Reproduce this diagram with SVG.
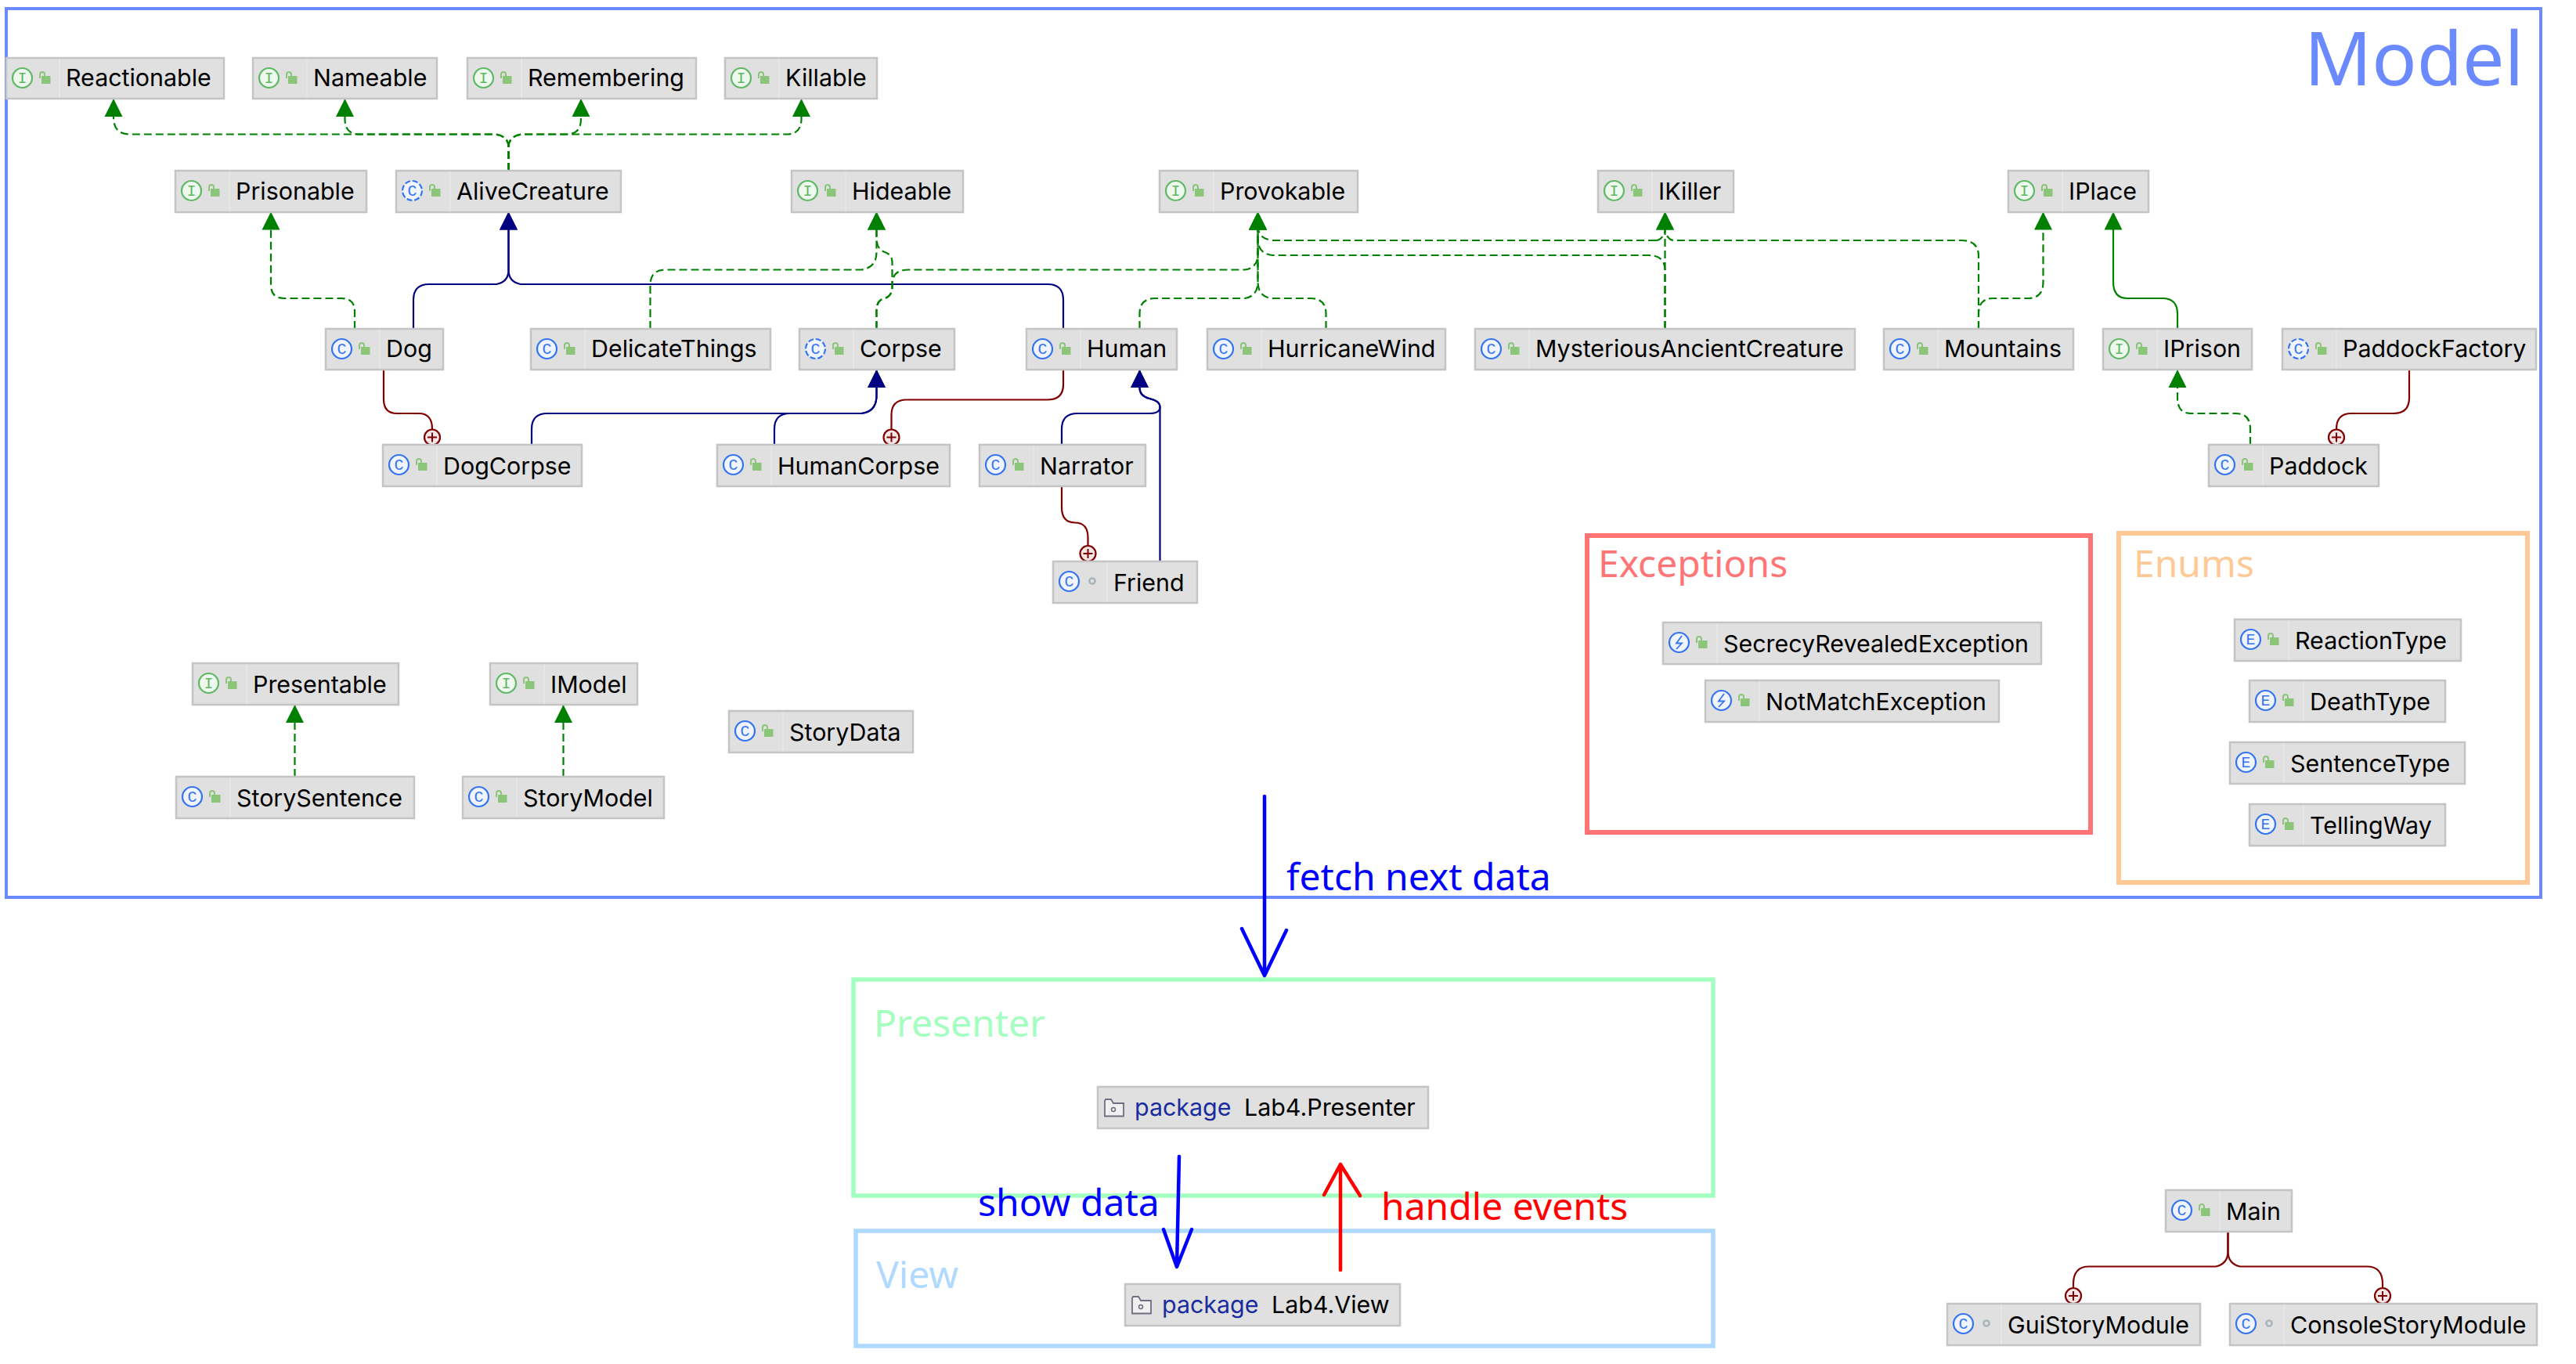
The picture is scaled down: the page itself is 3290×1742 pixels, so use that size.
<svg xmlns="http://www.w3.org/2000/svg" width="3290" height="1742" viewBox="0 0 3290 1742">
<style>
.bg{fill:#fff}
.node rect.b{fill:#e0e0e0;stroke:#c4c4c4;stroke-width:2.5}
.node line.d{stroke:#e9e9e9;stroke-width:1.5}
.node text.t{font-family:"Inter","Noto Sans",sans-serif;font-size:30.4px;fill:#000}
.node text.k{font-family:"Inter","Noto Sans",sans-serif;font-size:30.4px;fill:#1a2d9e}
.ci{font-family:"Liberation Mono","DejaVu Sans Mono",monospace;font-size:20px;text-anchor:middle}
.frame{fill:none}
.cap{font-family:"Noto Sans","Open Sans",sans-serif}
.impl{fill:none;stroke:#008000;stroke-width:2.2;stroke-dasharray:10 5}
.ext{fill:none;stroke:#000080;stroke-width:2.2}
.gext{fill:none;stroke:#008000;stroke-width:2.2}
.nest{fill:none;stroke:#800000;stroke-width:2.2}
.hand{fill:none;stroke-width:4.5;stroke-linecap:round;stroke-linejoin:round}
</style>
<defs>
<marker id="ag" viewBox="0 -12 23 24" refX="23" refY="0" markerWidth="23" markerHeight="24" markerUnits="userSpaceOnUse" orient="auto"><path d="M0-11.500L23 0L0 11.500Z" fill="#008000"/></marker>
<marker id="an" viewBox="0 -12 23 24" refX="23" refY="0" markerWidth="23" markerHeight="24" markerUnits="userSpaceOnUse" orient="auto"><path d="M0-11.500L23 0L0 11.500Z" fill="#000080"/></marker>
<g id="lock"><rect x="45" y="23" width="11.500" height="10" fill="#8bc57a"/><path d="M43 26V21A3 3 0 0 1 49 21V23" fill="none" stroke="#8bc57a" stroke-width="2"/></g>
<g id="ring"><circle cx="50" cy="25" r="3.600" fill="none" stroke="#a9b4bb" stroke-width="2.500"/></g>
<g id="ic-i"><circle cx="20.500" cy="25.500" r="12.500" fill="#eff8ee" stroke="#5fb865" stroke-width="2.200"/><text class="ci" x="20.500" y="32" fill="#5fb865">I</text><use href="#lock"/></g>
<g id="ic-c"><circle cx="20.500" cy="25.500" r="12.500" fill="#eff4ff" stroke="#3574f0" stroke-width="2.200"/><text class="ci" x="20.500" y="32" fill="#3574f0">C</text></g>
<g id="ic-a"><circle cx="20.500" cy="25.500" r="12.500" fill="#eff4ff" stroke="#3574f0" stroke-width="2.200" stroke-dasharray="7 2.800"/><text class="ci" x="20.500" y="32" fill="#3574f0">C</text><use href="#lock"/></g>
<g id="ic-e"><circle cx="20.500" cy="25.500" r="12.500" fill="#eff4ff" stroke="#3574f0" stroke-width="2.200"/><text class="ci" x="20.500" y="32" fill="#3574f0">E</text><use href="#lock"/></g>
<g id="ic-x"><circle cx="20.500" cy="25.500" r="12.500" fill="#eff4ff" stroke="#3574f0" stroke-width="2.200"/><path d="M24 17L17 26.500H24L17 34" fill="none" stroke="#3574f0" stroke-width="1.800"/><use href="#lock"/></g>
<g id="ic-p"><path d="M9 18V37.500H33V21H20L17 16H10Z" fill="#f0f0f0" stroke="#6e6e80" stroke-width="1.800"/><circle cx="20" cy="29" r="2.500" fill="none" stroke="#6e6e80" stroke-width="1.500"/></g>
<g id="plus"><circle r="10" fill="#f4e6e6" stroke="#800000" stroke-width="2.200"/><path d="M-6 0H6M0-6V6" stroke="#800000" stroke-width="2"/></g>
</defs>
<rect class="bg" width="3290" height="1742"/>

<g id="containers">
<g id="model"><rect class="frame" x="8" y="11" width="3237" height="1135" stroke-width="4" stroke="#6b8aff"/><text class="cap" x="2943" y="109" font-size="95" fill="#6b8aff">Model</text></g>
<g id="exceptions"><rect class="frame" x="2027" y="684" width="643" height="379" stroke-width="6" stroke="#ff7575"/><text class="cap" x="2041" y="737" font-size="48" fill="#ff7575">Exceptions</text></g>
<g id="enums"><rect class="frame" x="2706" y="681" width="522" height="446" stroke-width="6" stroke="#ffc996"/><text class="cap" x="2725" y="737" font-size="48" fill="#ffc996">Enums</text></g>
<g id="presenter"><rect class="frame" x="1090" y="1251" width="1098" height="276" stroke-width="5.500" stroke="#a3ffc0"/><text class="cap" x="1116" y="1324" font-size="48" fill="#a3ffc0">Presenter</text></g>
<g id="view"><rect class="frame" x="1093" y="1572" width="1095" height="147" stroke-width="5.500" stroke="#b0d9ff"/><text class="cap" x="1119" y="1645" font-size="48" fill="#b0d9ff">View</text></g>
</g>

<g id="connectors">
<path class="impl" marker-end="url(#ag)" d="M649.500 218V187Q649 174 633 171.500H165Q145 171 145 150V126"/>
<path class="impl" marker-end="url(#ag)" d="M649.500 218V187Q649 174 633 171.500H458Q440.500 171 440.500 152V126"/>
<path class="impl" marker-end="url(#ag)" d="M649.500 218V187Q650 174 666 171.500H724Q742 171 742 152V126"/>
<path class="impl" marker-end="url(#ag)" d="M649.500 218V187Q650 174 666 171.500H1005Q1023.500 171 1023.500 152V126"/>
<path class="impl" marker-end="url(#ag)" d="M453 420V398Q453 381 436 381H363Q346 381 346 364V270.500"/>
<path class="ext" marker-end="url(#an)" d="M528 420V383Q528 363 548 363H634Q649.500 360 649.500 345V270.500"/>
<path class="ext" marker-end="url(#an)" d="M1358 420V383Q1358 363 1338 363H665Q649.500 360 649.500 345V270.500"/>
<path class="nest" d="M490 472V510Q490 528 507 528H535Q552 528 552 548"/>
<path class="impl" marker-end="url(#ag)" d="M830.500 420V364Q830.500 344.500 850 344.500H1100Q1119.500 342 1119.500 322V270.500"/>
<path class="impl" marker-end="url(#ag)" d="M1119.500 420V397Q1119.500 383 1130 381Q1139.500 378 1139.500 366V335Q1139.500 325 1130 322Q1119.500 318 1119.500 305V270.500"/>
<path class="impl" marker-end="url(#ag)" d="M1119.500 420V397Q1119.500 383 1130 381Q1139.500 378 1139.500 366V362Q1140 344.500 1160 344.500H1590Q1606.500 342 1606.500 325V270.500"/>
<path class="impl" marker-end="url(#ag)" d="M1455.500 420V401Q1455.500 381 1475 381H1590Q1606.500 378 1606.500 360V270.500"/>
<path class="impl" marker-end="url(#ag)" d="M1693.500 420V401Q1693.500 381 1674 381H1623Q1606.500 378 1606.500 360V270.500"/>
<path class="impl" marker-end="url(#ag)" d="M2126.500 420V345Q2126.500 326 2105 326H1625Q1606.500 324 1606.500 305V270.500"/>
<path class="impl" marker-end="url(#ag)" d="M2126.500 420V270.500"/>
<path class="impl" marker-end="url(#ag)" d="M2527 420V327Q2527 307 2505 307H2138Q2131 307 2126.500 296V270.500"/>
<path class="impl" d="M2115 307Q2122 307 2126.500 296M2115 307H1625Q1606.500 305 1606.500 288"/>
<path class="impl" marker-end="url(#ag)" d="M2527 420V401Q2527 381 2545 381H2590Q2609.500 381 2609.500 360V270.500"/>
<path class="gext" marker-end="url(#ag)" d="M2781 420V401Q2781 381 2762 381H2717Q2699 381 2699 360V270.500"/>
<path class="impl" marker-end="url(#ag)" d="M2874 568V548Q2874 528 2855 528H2798Q2781 528 2781 508V472"/>
<path class="nest" d="M3077 472V508Q3077 528 3057 528H3003Q2984 528 2984 548"/>
<path class="ext" marker-end="url(#an)" d="M679 568V548Q679 528 699 528H1100Q1119.500 526 1119.500 505V472"/>
<path class="ext" marker-end="url(#an)" d="M989 568V548Q989 528 1009 528H1100Q1119.500 526 1119.500 505V472"/>
<path class="nest" d="M1358 472V491Q1358 510.500 1338 510.500H1158Q1138.500 510.500 1138.500 530V548"/>
<path class="ext" marker-end="url(#an)" d="M1356 568V548Q1356 528 1376 528H1468Q1481.500 528 1481.500 520Q1481.500 512 1468 509Q1455.500 506 1455.500 495V472"/>
<path class="ext" marker-end="url(#an)" d="M1481.500 717V520Q1481.500 512 1468 509Q1455.500 506 1455.500 495V472"/>
<path class="nest" d="M1356 621V648Q1356 667.500 1373 667.500Q1389.500 667.500 1389.500 687V697"/>
<path class="impl" marker-end="url(#ag)" d="M376.500 992V900"/>
<path class="impl" marker-end="url(#ag)" d="M719.500 992V900"/>
<path class="nest" d="M2845.500 1572V1598Q2845.500 1614 2830 1617.500H2668Q2648 1617.500 2648 1640V1645"/>
<path class="nest" d="M2845.500 1572V1598Q2845.500 1614 2861 1617.500H3023Q3043 1617.500 3043 1640V1645"/>
<use href="#plus" x="552" y="558.500"/>
<use href="#plus" x="2984" y="558.500"/>
<use href="#plus" x="1138.500" y="558.500"/>
<use href="#plus" x="1389.500" y="707"/>
<use href="#plus" x="2648" y="1655"/>
<use href="#plus" x="3043" y="1655"/>
</g>

<g id="Reactionable" class="node" transform="translate(8 74)"><rect class="b" width="278" height="52"/><line class="d" x1="68" y1="1" x2="68" y2="51"/><use href="#ic-i"/><text class="t" x="76" y="36">Reactionable</text></g>
<g id="Nameable" class="node" transform="translate(323 74)"><rect class="b" width="235" height="52"/><line class="d" x1="69" y1="1" x2="69" y2="51"/><use href="#ic-i"/><text class="t" x="77" y="36">Nameable</text></g>
<g id="Remembering" class="node" transform="translate(597 74)"><rect class="b" width="292" height="52"/><line class="d" x1="69" y1="1" x2="69" y2="51"/><use href="#ic-i"/><text class="t" x="77" y="36">Remembering</text></g>
<g id="Killable" class="node" transform="translate(926 74)"><rect class="b" width="194" height="52"/><line class="d" x1="69" y1="1" x2="69" y2="51"/><use href="#ic-i"/><text class="t" x="77" y="36">Killable</text></g>
<g id="Prisonable" class="node" transform="translate(224 218)"><rect class="b" width="244" height="53"/><line class="d" x1="69" y1="1" x2="69" y2="52"/><use href="#ic-i"/><text class="t" x="77" y="37">Prisonable</text></g>
<g id="AliveCreature" class="node" transform="translate(506 218)"><rect class="b" width="287" height="53"/><line class="d" x1="69" y1="1" x2="69" y2="52"/><use href="#ic-a"/><text class="t" x="77" y="37">AliveCreature</text></g>
<g id="Hideable" class="node" transform="translate(1011 218)"><rect class="b" width="219" height="53"/><line class="d" x1="69" y1="1" x2="69" y2="52"/><use href="#ic-i"/><text class="t" x="77" y="37">Hideable</text></g>
<g id="Provokable" class="node" transform="translate(1481 218)"><rect class="b" width="253" height="53"/><line class="d" x1="69" y1="1" x2="69" y2="52"/><use href="#ic-i"/><text class="t" x="77" y="37">Provokable</text></g>
<g id="IKiller" class="node" transform="translate(2041 218)"><rect class="b" width="173" height="53"/><line class="d" x1="69" y1="1" x2="69" y2="52"/><use href="#ic-i"/><text class="t" x="77" y="37">IKiller</text></g>
<g id="IPlace" class="node" transform="translate(2565 218)"><rect class="b" width="179" height="53"/><line class="d" x1="69" y1="1" x2="69" y2="52"/><use href="#ic-i"/><text class="t" x="77" y="37">IPlace</text></g>
<g id="Dog" class="node" transform="translate(416 420)"><rect class="b" width="150" height="52"/><line class="d" x1="69" y1="1" x2="69" y2="51"/><use href="#ic-c"/><use href="#lock"/><text class="t" x="77" y="36">Dog</text></g>
<g id="DelicateThings" class="node" transform="translate(678 420)"><rect class="b" width="306" height="52"/><line class="d" x1="69" y1="1" x2="69" y2="51"/><use href="#ic-c"/><use href="#lock"/><text class="t" x="77" y="36">DelicateThings</text></g>
<g id="Corpse" class="node" transform="translate(1021 420)"><rect class="b" width="198" height="52"/><line class="d" x1="69" y1="1" x2="69" y2="51"/><use href="#ic-a"/><text class="t" x="77" y="36">Corpse</text></g>
<g id="Human" class="node" transform="translate(1311 420)"><rect class="b" width="192" height="52"/><line class="d" x1="69" y1="1" x2="69" y2="51"/><use href="#ic-c"/><use href="#lock"/><text class="t" x="77" y="36">Human</text></g>
<g id="HurricaneWind" class="node" transform="translate(1542 420)"><rect class="b" width="304" height="52"/><line class="d" x1="69" y1="1" x2="69" y2="51"/><use href="#ic-c"/><use href="#lock"/><text class="t" x="77" y="36">HurricaneWind</text></g>
<g id="MysteriousAncientCreature" class="node" transform="translate(1884 420)"><rect class="b" width="485" height="52"/><line class="d" x1="69" y1="1" x2="69" y2="51"/><use href="#ic-c"/><use href="#lock"/><text class="t" x="77" y="36">MysteriousAncientCreature</text></g>
<g id="Mountains" class="node" transform="translate(2406 420)"><rect class="b" width="242" height="52"/><line class="d" x1="69" y1="1" x2="69" y2="51"/><use href="#ic-c"/><use href="#lock"/><text class="t" x="77" y="36">Mountains</text></g>
<g id="IPrison" class="node" transform="translate(2686 420)"><rect class="b" width="190" height="52"/><line class="d" x1="69" y1="1" x2="69" y2="51"/><use href="#ic-i"/><text class="t" x="77" y="36">IPrison</text></g>
<g id="PaddockFactory" class="node" transform="translate(2915 420)"><rect class="b" width="324" height="52"/><line class="d" x1="69" y1="1" x2="69" y2="51"/><use href="#ic-a"/><text class="t" x="77" y="36">PaddockFactory</text></g>
<g id="DogCorpse" class="node" transform="translate(489 568)"><rect class="b" width="254" height="53"/><line class="d" x1="69" y1="1" x2="69" y2="52"/><use href="#ic-c"/><use href="#lock"/><text class="t" x="77" y="38">DogCorpse</text></g>
<g id="HumanCorpse" class="node" transform="translate(916 568)"><rect class="b" width="297" height="53"/><line class="d" x1="69" y1="1" x2="69" y2="52"/><use href="#ic-c"/><use href="#lock"/><text class="t" x="77" y="38">HumanCorpse</text></g>
<g id="Narrator" class="node" transform="translate(1251 568)"><rect class="b" width="212" height="53"/><line class="d" x1="69" y1="1" x2="69" y2="52"/><use href="#ic-c"/><use href="#lock"/><text class="t" x="77" y="38">Narrator</text></g>
<g id="Paddock" class="node" transform="translate(2821 568)"><rect class="b" width="217" height="53"/><line class="d" x1="69" y1="1" x2="69" y2="52"/><use href="#ic-c"/><use href="#lock"/><text class="t" x="77" y="38">Paddock</text></g>
<g id="Friend" class="node" transform="translate(1345 717)"><rect class="b" width="184" height="53"/><line class="d" x1="69" y1="1" x2="69" y2="52"/><use href="#ic-c"/><use href="#ring"/><text class="t" x="77" y="38">Friend</text></g>
<g id="Presentable" class="node" transform="translate(246 847)"><rect class="b" width="263" height="53"/><line class="d" x1="69" y1="1" x2="69" y2="52"/><use href="#ic-i"/><text class="t" x="77" y="38">Presentable</text></g>
<g id="IModel" class="node" transform="translate(626 847)"><rect class="b" width="188" height="53"/><line class="d" x1="69" y1="1" x2="69" y2="52"/><use href="#ic-i"/><text class="t" x="77" y="38">IModel</text></g>
<g id="StoryData" class="node" transform="translate(931 908)"><rect class="b" width="235" height="53"/><line class="d" x1="69" y1="1" x2="69" y2="52"/><use href="#ic-c"/><use href="#lock"/><text class="t" x="77" y="38">StoryData</text></g>
<g id="StorySentence" class="node" transform="translate(225 992)"><rect class="b" width="304" height="53"/><line class="d" x1="69" y1="1" x2="69" y2="52"/><use href="#ic-c"/><use href="#lock"/><text class="t" x="77" y="38">StorySentence</text></g>
<g id="StoryModel" class="node" transform="translate(591 992)"><rect class="b" width="257" height="53"/><line class="d" x1="69" y1="1" x2="69" y2="52"/><use href="#ic-c"/><use href="#lock"/><text class="t" x="77" y="38">StoryModel</text></g>
<g id="SecrecyRevealedException" class="node" transform="translate(2124 795)"><rect class="b" width="483" height="53"/><line class="d" x1="69" y1="1" x2="69" y2="52"/><use href="#ic-x"/><text class="t" x="77" y="38">SecrecyRevealedException</text></g>
<g id="NotMatchException" class="node" transform="translate(2178 869)"><rect class="b" width="375" height="53"/><line class="d" x1="69" y1="1" x2="69" y2="52"/><use href="#ic-x"/><text class="t" x="77" y="38">NotMatchException</text></g>
<g id="ReactionType" class="node" transform="translate(2854 791)"><rect class="b" width="289" height="53"/><line class="d" x1="69" y1="1" x2="69" y2="52"/><use href="#ic-e"/><text class="t" x="77" y="38">ReactionType</text></g>
<g id="DeathType" class="node" transform="translate(2873 869)"><rect class="b" width="250" height="53"/><line class="d" x1="69" y1="1" x2="69" y2="52"/><use href="#ic-e"/><text class="t" x="77" y="38">DeathType</text></g>
<g id="SentenceType" class="node" transform="translate(2848 948)"><rect class="b" width="300" height="53"/><line class="d" x1="69" y1="1" x2="69" y2="52"/><use href="#ic-e"/><text class="t" x="77" y="38">SentenceType</text></g>
<g id="TellingWay" class="node" transform="translate(2873 1027)"><rect class="b" width="250" height="53"/><line class="d" x1="69" y1="1" x2="69" y2="52"/><use href="#ic-e"/><text class="t" x="77" y="38">TellingWay</text></g>
<g id="LabPresenter" class="node" transform="translate(1402 1388)"><rect class="b" width="422" height="53"/><use href="#ic-p"/><text class="k" x="47" y="37">package</text><text class="t" x="187" y="37">Lab4.Presenter</text></g>
<g id="LabView" class="node" transform="translate(1437 1640)"><rect class="b" width="351" height="53"/><use href="#ic-p"/><text class="k" x="47" y="37">package</text><text class="t" x="187" y="37">Lab4.View</text></g>
<g id="Main" class="node" transform="translate(2766 1520)"><rect class="b" width="161" height="53"/><line class="d" x1="69" y1="1" x2="69" y2="52"/><use href="#ic-c"/><use href="#lock"/><text class="t" x="77" y="38">Main</text></g>
<g id="GuiStoryModule" class="node" transform="translate(2487 1665)"><rect class="b" width="323" height="53"/><line class="d" x1="69" y1="1" x2="69" y2="52"/><use href="#ic-c"/><use href="#ring"/><text class="t" x="77" y="38">GuiStoryModule</text></g>
<g id="ConsoleStoryModule" class="node" transform="translate(2848 1665)"><rect class="b" width="392" height="53"/><line class="d" x1="69" y1="1" x2="69" y2="52"/><use href="#ic-c"/><use href="#ring"/><text class="t" x="77" y="38">ConsoleStoryModule</text></g>

<g id="flow-arrows">
<path class="hand" stroke="#0000ff" d="M1615 1017V1245M1586 1186L1615 1246L1643 1188"/>
<text class="cap" x="1643" y="1137" font-size="48" fill="#0000ff">fetch next data</text>
<path class="hand" stroke="#0000ff" d="M1506 1477L1503 1617M1486 1570L1503 1618L1522 1570"/>
<text class="cap" x="1249" y="1553" font-size="48" fill="#0000ff">show data</text>
<path class="hand" stroke="#ff0000" d="M1712 1622V1487M1691 1526L1712 1487L1737 1527"/>
<text class="cap" x="1764" y="1558" font-size="48" fill="#ff0000">handle events</text>
</g>
</svg>
